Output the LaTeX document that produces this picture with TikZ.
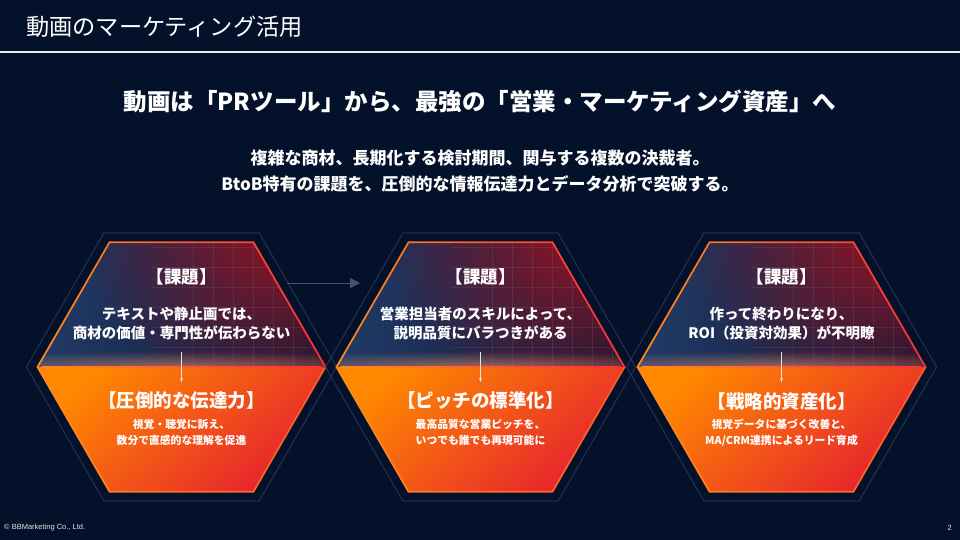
\documentclass[tikz,border=0pt]{standalone}
\usepackage{fontspec}
\setmainfont{Noto Sans CJK JP}
\newfontfamily\footfont{Liberation Sans}
\usetikzlibrary{fadings,arrows.meta}
\definecolor{bgc}{HTML}{03112B}
\definecolor{navyA}{HTML}{213B67}
\definecolor{navyB}{HTML}{0F1734}
\definecolor{glowred}{HTML}{8E1526}
\definecolor{divglow}{HTML}{FF9A6A}
\definecolor{orA}{HTML}{FF8800}
\definecolor{redA}{HTML}{E6232F}
\definecolor{bdOr}{HTML}{FF8C1A}
\definecolor{bdRed}{HTML}{FF2E36}
\definecolor{bdOr2}{HTML}{FF5A2A}
\definecolor{outl}{HTML}{27334E}
\definecolor{arrc}{HTML}{4A536C}
\tikzfading[name=radfade, inner color=transparent!0, outer color=transparent!100]
\newcommand\hexpath[2]{(#1-#2,367) -- (#1-#2/2,367-#2*0.8660) -- (#1+#2/2,367-#2*0.8660) -- (#1+#2,367) -- (#1+#2/2,367+#2*0.8660) -- (#1-#2/2,367+#2*0.8660) -- cycle}
\tikzset{
  outerline/.style={draw=outl, line width=1pt},
  gridline/.style={draw=white, opacity=0.07, line width=0.6pt},
  kadai/.style={text=white, inner sep=0pt, font=\fontsize{17.5}{20}\selectfont\bfseries},
  prob/.style={text=white, inner sep=0pt, align=center, font=\fontsize{14.5}{19}\selectfont\bfseries},
  soltitle/.style={text=white, inner sep=0pt, font=\fontsize{18.5}{22}\selectfont\bfseries},
  soldesc/.style={text=white, inner sep=0pt, align=center, font=\fontsize{10.8}{15.5}\selectfont\bfseries},
  smallarrow/.style={draw=white!80!gray, line width=0.6pt, -{Stealth[length=4pt,width=3pt]}},
  flowarrow/.style={draw=arrc, line width=1pt, -{Triangle[length=10pt,width=10pt]}},
}
\newcommand\hexpanel[5]{%
  \draw[outerline] \hexpath{#2}{155};
  \begin{scope}
    \clip (#2-143.5,367) -- (#2-71.75,242.7) -- (#2+71.75,242.7) -- (#2+143.5,367) -- cycle;
    \shade[left color=navyA, right color=navyB] (#2-144,240) rectangle (#2+144,367);
    \fill[glowred, path fading=radfade] (#2+100,236) ellipse (200 and 170);
    \foreach \k in {0,...,6} \draw[gridline] (#2+12+20*\k,240) -- (#2+12+20*\k,367);
    \foreach \k in {0,...,5} \draw[gridline] (#2-30,247+20*\k) -- (#2+145,247+20*\k);
    \fill[divglow, opacity=0.55, path fading=radfade] (#2,367) ellipse (260 and 16);
  \end{scope}
  \shade[top color=orA, bottom color=redA, shading angle=40] (#2-143.5,367) -- (#2+143.5,367) -- (#2+71.75,491.3) -- (#2-71.75,491.3) -- cycle;
  \begin{scope}
    \clip (#2-200,200) rectangle (#2+200,367);
    \shade[even odd rule, left color=bdOr, right color=bdRed] \hexpath{#2}{145} \hexpath{#2}{143};
  \end{scope}
  \begin{scope}
    \clip (#2-200,367) rectangle (#2+200,520);
    \shade[even odd rule, left color=bdOr, right color=bdOr2] \hexpath{#2}{145} \hexpath{#2}{143};
  \end{scope}
  \shade[left color=bdOr, middle color=white!80!orange, right color=bdRed] (#2-140,366.3) rectangle (#2+140,367.7);
  \node[kadai] (#1k) at (#2,277) {【課題】};
  \node[prob] (#1p) at (#2,324) {#3};
  \coordinate (#1a) at (#2,352);
  \coordinate (#1b) at (#2,382);
  \draw[smallarrow] (#1a) -- (#1b);
  \node[soltitle] (#1s) at (#2,401) {#4};
  \node[soldesc] (#1d) at (#2,432.5) {#5};
}
\begin{document}
\begin{tikzpicture}[x=1pt,y=-1pt]
  \fill[bgc] (0,0) rectangle (960,540);
  \useasboundingbox (0,0) rectangle (960,540);
  % title bar
  \node[anchor=west, text=white, inner sep=0pt, font=\fontsize{23.2}{26}\selectfont] (title) at (26,27) {動画のマーケティング活用};
  \coordinate (barL) at (0,52);
  \coordinate (barR) at (960,52);
  \draw[white!85!gray, line width=1.5pt] (barL) -- (barR);
  % heading
  \node[text=white, inner sep=0pt, font=\fontsize{23.5}{28}\selectfont\bfseries] (head) at (480,101) {動画は「PRツール」から、最強の「営業・マーケティング資産」へ};
  \node[text=white, inner sep=0pt, align=center, font=\fontsize{17}{26}\selectfont\bfseries] (sub) at (480,171) {複雑な商材、長期化する検討期間、関与する複数の決裁者。\\BtoB特有の課題を、圧倒的な情報伝達力とデータ分析で突破する。};
  % panels
  \hexpanel{A}{181.5}{テキストや静止画では、\\商材の価値・専門性が伝わらない}{【圧倒的な伝達力】}{視覚・聴覚に訴え、\\数分で直感的な理解を促進}
  \hexpanel{B}{480.5}{営業担当者のスキルによって、\\説明品質にバラつきがある}{【ピッチの標準化】}{最高品質な営業ピッチを、\\いつでも誰でも再現可能に}
  \hexpanel{C}{781.5}{作って終わりになり、\\ROI（投資対効果）が不明瞭}{【戦略的資産化】}{視覚データに基づく改善と、\\MA/CRM連携によるリード育成}
  % flow arrow
  \coordinate (fS) at (287,283);
  \coordinate (fE) at (360,283);
  \draw[flowarrow] (fS) -- (fE);
  % footer
  \node[anchor=west, text=white!80!gray, inner sep=0pt, font=\footfont\fontsize{7.5}{9}\selectfont] (copy) at (4,528) {© BBMarketing Co., Ltd.};
  \node[anchor=east, text=white!80!gray, inner sep=0pt, font=\footfont\fontsize{7.5}{9}\selectfont] (pg) at (952,528) {2};
\end{tikzpicture}
\end{document}
